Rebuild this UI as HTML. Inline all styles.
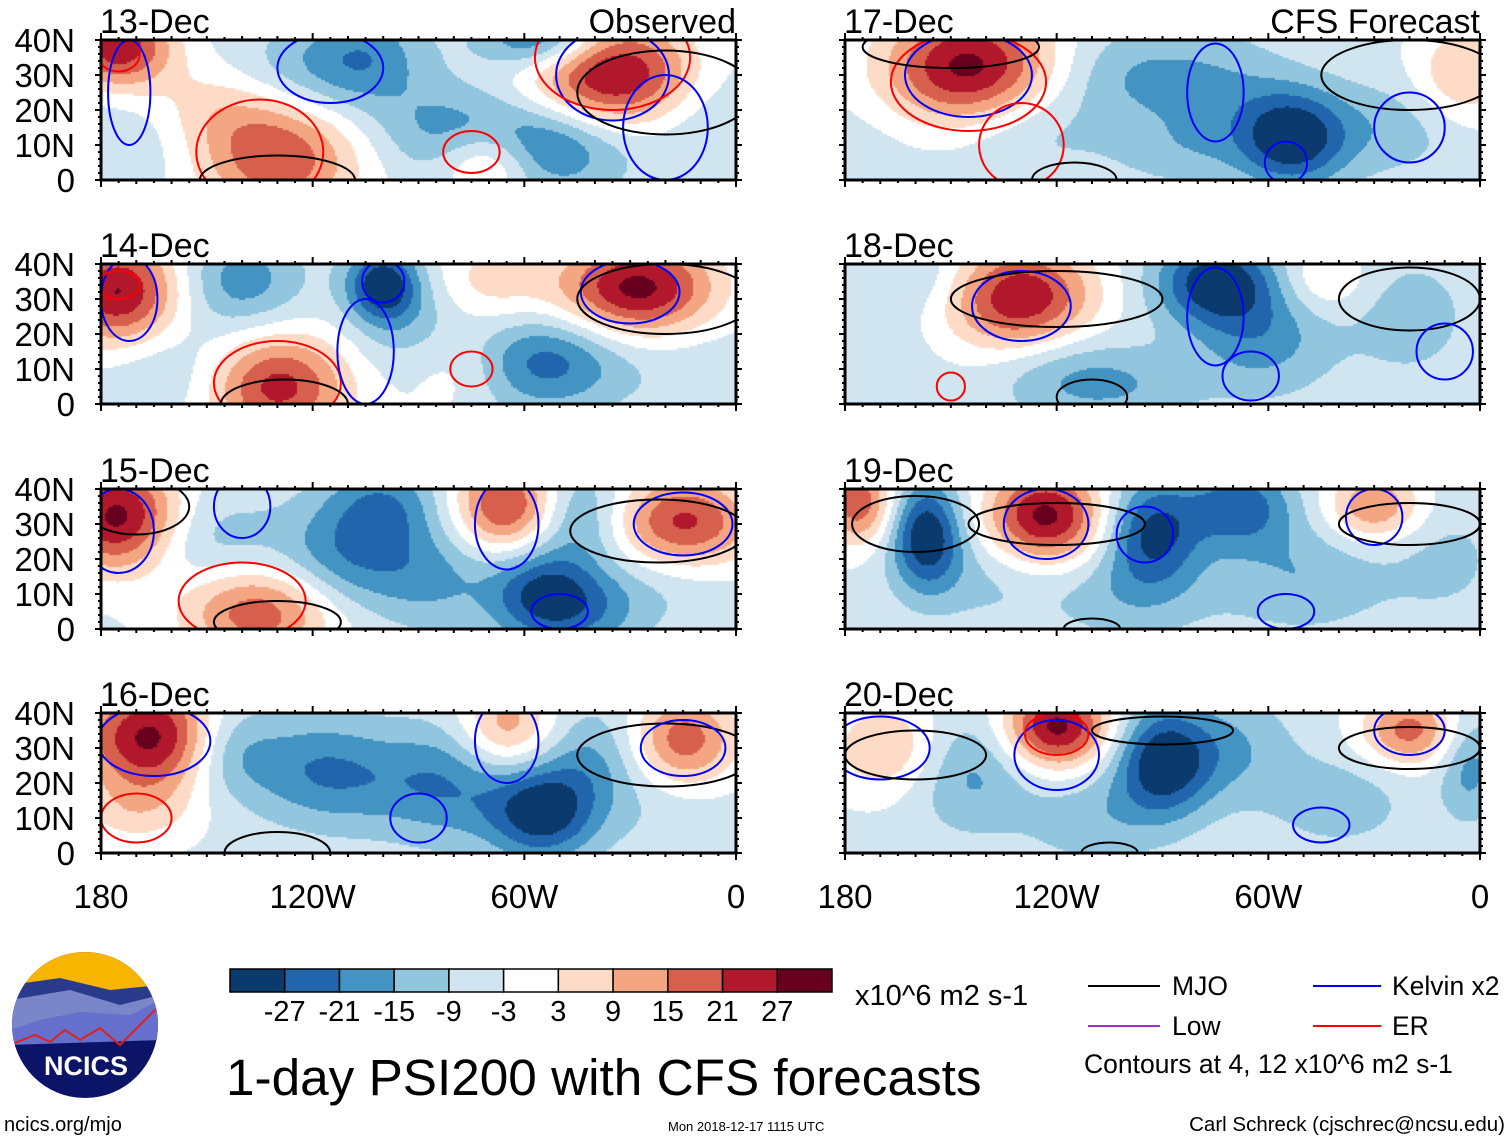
<!DOCTYPE html>
<html><head><meta charset="utf-8">
<style>
html,body{margin:0;padding:0;background:#fff;}
#wrap{position:relative;width:1510px;height:1141px;overflow:hidden;font-family:"Liberation Sans",sans-serif;}
canvas,svg{position:absolute;left:0;top:0;}
</style></head>
<body>
<div id="wrap">
<canvas id="cv" width="1510" height="1141"></canvas>
<svg id="sv" width="1510" height="1141">
  <g id="panels"></g>
  <g>
    <defs><clipPath id="lc"><circle cx="85" cy="1025" r="73"/></clipPath></defs>
    <g clip-path="url(#lc)">
      <rect x="10" y="950" width="150" height="150" fill="#0b1466"/>
      <rect x="10" y="950" width="150" height="50" fill="#f7b500"/>
      <path d="M10 985 L60 978 L110 990 L160 985 L160 1020 L10 1025Z" fill="#2a3a8c"/>
      <path d="M10 1000 L70 990 L120 1005 L160 995 L160 1030 L10 1035Z" fill="#7a86c8"/>
      <path d="M10 1030 L40 1020 L80 1012 L130 1015 L160 1000 L160 1040 L10 1045Z" fill="#6470cc"/>
      <path d="M10 1045 L35 1035 L50 1042 L65 1030 L80 1040 L100 1028 L120 1045 L140 1025 L160 1005" fill="none" stroke="#e02020" stroke-width="2"/>
    </g>
    <text x="86" y="1075" font-size="27" font-weight="bold" fill="#fff" text-anchor="middle">NCICS</text>
  </g>
  <g id="cbar"></g>
  <text x="855" y="1005" font-size="29">x10^6 m2 s-1</text>
  <text x="226" y="1095" font-size="51.3">1-day PSI200 with CFS forecasts</text>
  <g>
    <line x1="1088" y1="986" x2="1160" y2="986" stroke="#000" stroke-width="2"/>
    <text x="1172" y="995" font-size="26.5">MJO</text>
    <line x1="1313" y1="986" x2="1381" y2="986" stroke="#0000ff" stroke-width="2"/>
    <text x="1392" y="995" font-size="26.5">Kelvin x2</text>
    <line x1="1088" y1="1026" x2="1160" y2="1026" stroke="#9932cc" stroke-width="2"/>
    <text x="1172" y="1035" font-size="26.5">Low</text>
    <line x1="1313" y1="1026" x2="1381" y2="1026" stroke="#ff0000" stroke-width="2"/>
    <text x="1392" y="1035" font-size="26.5">ER</text>
    <text x="1084" y="1073" font-size="26.5">Contours at 4, 12 x10^6 m2 s-1</text>
  </g>
  <text x="4" y="1131" font-size="20">ncics.org/mjo</text>
  <text x="668" y="1131" font-size="13">Mon 2018-12-17 1115 UTC</text>
  <text x="1505" y="1131" font-size="20.5" text-anchor="end">Carl Schreck (cjschrec@ncsu.edu)</text>
</svg>
</div>
<script>
const panelTitles = ["13-Dec","14-Dec","15-Dec","16-Dec","17-Dec","18-Dec","19-Dec","20-Dec"];
const levels = [-27,-21,-15,-9,-3,3,9,15,21,27];
const levelColors = ["#0a3a6e","#2166ac","#4393c3","#92c5de","#d1e5f0","#ffffff","#fddbc7","#f4a582","#d6604d","#b2182b","#67001f"];
const latTicks = ["40N","30N","20N","10N","0"];
const lonTicks = ["180","120W","60W","0"];
// background anomaly per panel
const baseValues = [-4.5,-4.5,-4.5,-4.5,-4.5,-4.5,-4.5,-4.5];
// anomaly centers: [lonW, lat, amplitude, sxDeg, syDeg]
const anomalies = [
 [[175,38,30,9,7],[130,6,24,14,10],[150,20,12,14,8],[165,15,-8,14,9],[105,35,-14,10,8],[125,30,-9,12,8],[35,30,34,14,9],[55,40,-22,10,5],[55,10,-20,14,8],[70,5,18,8,6],[85,15,-10,12,8],[10,20,-6,10,10]],
 [[175,32,32,10,9],[160,10,-6,12,8],[140,35,-14,10,8],[100,34,-28,6,6],[130,5,28,12,9],[80,12,12,10,8],[28,33,34,13,8],[55,12,-20,14,8],[90,20,-10,10,9],[10,10,-3,10,10],[70,35,10,10,7]],
 [[175,32,34,10,9],[135,5,24,13,8],[150,25,-8,12,8],[110,20,-16,12,9],[100,36,-14,10,7],[65,35,28,9,8],[55,10,-24,9,8],[85,15,-10,10,9],[15,30,28,12,8],[45,33,-14,8,8],[20,15,-6,12,8],[40,5,-10,9,7]],
 [[165,33,34,12,9],[145,30,-14,8,8],[120,24,-14,12,9],[100,20,-8,12,9],[65,36,18,8,8],[55,12,-28,9,8],[80,20,-13,10,10],[15,32,24,9,8],[40,28,-10,9,9],[20,15,-4,12,9],[170,12,9,10,6]],
 [[145,32,34,14,10],[130,15,-8,14,8],[100,30,-9,12,8],[75,25,-10,12,10],[53,12,-28,9,8],[85,8,-6,12,6],[5,30,14,8,8],[25,15,-8,12,8],[175,10,-2,10,8]],
 [[130,30,32,12,9],[160,36,-6,10,6],[120,10,-10,12,8],[100,5,-8,12,6],[75,35,-26,10,7],[62,20,-14,12,10],[45,35,10,8,6],[20,25,-8,10,10],[175,15,-3,10,8]],
 [[176,36,24,6,7],[157,27,-28,6,9],[123,32,34,10,8],[93,28,-24,8,9],[68,35,-20,9,7],[100,10,-8,14,8],[30,35,20,8,6],[50,15,-10,14,9],[10,20,-6,10,10],[140,15,-6,12,8]],
 [[167,30,14,10,8],[145,24,-13,10,10],[120,36,34,9,7],[90,26,-28,8,9],[110,10,-8,12,8],[70,30,-10,10,9],[20,35,22,8,6],[40,15,-8,12,8],[3,25,-13,5,9]]
];
// contour ellipses: [color, lonW, lat, rxDeg, ryDeg]
const contours = [
 [["r",175,36,6,5],["b",172,25,6,15],["b",115,32,15,10],["r",135,8,18,15],["k",130,0,22,7],["b",35,30,16,13],["r",35,35,22,15],["b",20,15,12,15],["r",75,8,8,6],["k",20,25,25,12]],
 [["b",172,30,8,12],["r",175,34,6,4],["b",100,35,6,6],["r",130,6,18,12],["k",128,0,18,7],["b",30,32,14,9],["k",20,30,25,10],["r",75,10,6,5],["b",105,15,8,15]],
 [["b",175,28,10,12],["k",170,35,15,8],["b",140,35,8,9],["r",140,8,18,11],["k",130,2,18,6],["b",65,30,9,13],["b",15,30,14,9],["k",22,28,25,9],["b",50,5,8,5]],
 [["b",165,32,16,10],["r",170,10,10,7],["k",130,0,15,6],["b",90,10,8,7],["b",65,32,9,12],["k",20,28,25,9],["b",15,30,12,8]],
 [["b",145,30,18,12],["r",145,28,22,14],["k",150,38,25,6],["r",130,10,12,12],["k",115,0,12,5],["b",75,25,8,14],["k",20,30,25,10],["b",55,5,6,6],["b",20,15,10,10]],
 [["b",130,28,14,10],["k",120,30,30,8],["r",150,5,4,4],["k",110,2,10,5],["b",75,25,8,14],["k",20,30,20,9],["b",10,15,8,8],["b",65,8,8,7]],
 [["k",160,30,18,8],["b",123,30,12,10],["k",120,30,25,6],["b",95,27,8,8],["b",30,32,8,8],["k",20,30,20,6],["b",55,5,8,5],["k",110,0,8,3]],
 [["b",170,30,14,9],["k",160,28,20,7],["b",120,28,12,10],["r",120,34,9,6],["k",90,35,20,4],["b",20,35,10,7],["k",20,30,20,6],["b",45,8,8,5],["k",105,0,8,3]]
];

const SVGNS = "http://www.w3.org/2000/svg";
const pL = [101, 845], pW = 635, pTop = [40, 264, 489, 713], pH = 140;
function panelBox(i){ return {x: pL[i<4?0:1], y: pTop[i%4]}; }
function xOf(box, lonW){ return box.x + (180 - lonW) / 180 * pW; }
function yOf(box, lat){ return box.y + (40 - lat) / 40 * pH; }
function colorFor(v){ let k=0; while(k<levels.length && v>levels[k]) k++; return levelColors[k]; }
function mk(tag, attrs, parent){ const e=document.createElementNS(SVGNS,tag); for(const a in attrs) e.setAttribute(a,attrs[a]); parent.appendChild(e); return e; }

const ctx = document.getElementById('cv').getContext('2d');
const gP = document.getElementById('panels');
const cs = 2, spread = 1.2;
for (let i=0;i<8;i++){
  const box = panelBox(i), an = anomalies[i];
  for (let px=0; px<pW; px+=cs){
    for (let py=0; py<pH; py+=cs){
      const lon = 180 - (px+cs/2)/pW*180, lat = 40 - (py+cs/2)/pH*40;
      let v=baseValues[i];
      for (const a of an){ const dx=(lon-a[0])/(a[3]*spread), dy=(lat-a[1])/(a[4]*spread); v += a[2]*Math.exp(-(dx*dx+dy*dy)/2); }
      ctx.fillStyle = colorFor(v);
      ctx.fillRect(box.x+px, box.y+py, cs, cs);
    }
  }
  const g = mk('g',{}, gP);
  
  
  const clipId='pc'+i;
  const cp = mk('clipPath',{id:clipId},g); mk('rect',{x:box.x,y:box.y,width:pW,height:pH},cp);
  const cg = mk('g',{'clip-path':'url(#'+clipId+')'},g);
  const colMap={k:'#000',b:'#0000ff',r:'#ff0000'};
  for (const c of contours[i]){
    const el = mk('ellipse',{cx:xOf(box,c[1]),cy:yOf(box,c[2]),rx:c[3]/180*pW,ry:c[4]/40*pH,fill:'none',stroke:colMap[c[0]],'stroke-width':2},cg);
    
    
  }
  const fr = mk('rect',{x:box.x,y:box.y,width:pW,height:pH,fill:'none',stroke:'#000','stroke-width':3},g);
  
  
  for (let lw=180; lw>=0; lw-=5){
    const x=xOf(box,lw), L = lw%60===0?7:(lw%10===0?4:3);
    mk('line',{x1:x,y1:box.y+pH,x2:x,y2:box.y+pH+L,stroke:'#000','stroke-width':2},g);
    mk('line',{x1:x,y1:box.y,x2:x,y2:box.y-L,stroke:'#000','stroke-width':2},g);
  }
  for (let la=0; la<=40; la+=2){
    const y=yOf(box,la), L = la%10===0?6:3;
    mk('line',{x1:box.x,y1:y,x2:box.x-L,y2:y,stroke:'#000','stroke-width':2},g);
    mk('line',{x1:box.x+pW,y1:y,x2:box.x+pW+L,y2:y,stroke:'#000','stroke-width':2},g);
  }
  const t = mk('text',{x:box.x-1,y:box.y-7,'font-size':34},g); t.textContent=panelTitles[i];
  
  
  if (i===0||i===4){
    const r = mk('text',{x:box.x+pW,y:box.y-7,'font-size':34,'text-anchor':'end'},g); r.textContent = i===0?'Observed':'CFS Forecast';
    
    
  }
  if (i<4){
    latTicks.forEach((lb,k)=>{
      const tt = mk('text',{x:75,y:yOf(box,40-k*10)+12,'font-size':33,'text-anchor':'end'},g); tt.textContent=lb;
      
      
    });
  }
  if (i%4===3){
    lonTicks.forEach((lb,k)=>{
      const tt = mk('text',{x:xOf(box,180-k*60),y:908,'font-size':33,'text-anchor':'middle'},g); tt.textContent=lb;
      
      
    });
  }
}
// colorbar
const gC = document.getElementById('cbar');
const cbX=230, cbY=969, cbW=602, cbH=23, bw=cbW/levelColors.length;
levelColors.forEach((c,k)=>{
  const r = mk('rect',{x:cbX+k*bw,y:cbY,width:bw,height:cbH,fill:c,stroke:'#000','stroke-width':1.5},gC);
  
  
});
levels.forEach((lv,k)=>{
  const t = mk('text',{x:cbX+(k+1)*bw,y:1021,'font-size':29,'text-anchor':'middle'},gC); t.textContent=String(lv);
  
  
});
</script>
</body></html>
